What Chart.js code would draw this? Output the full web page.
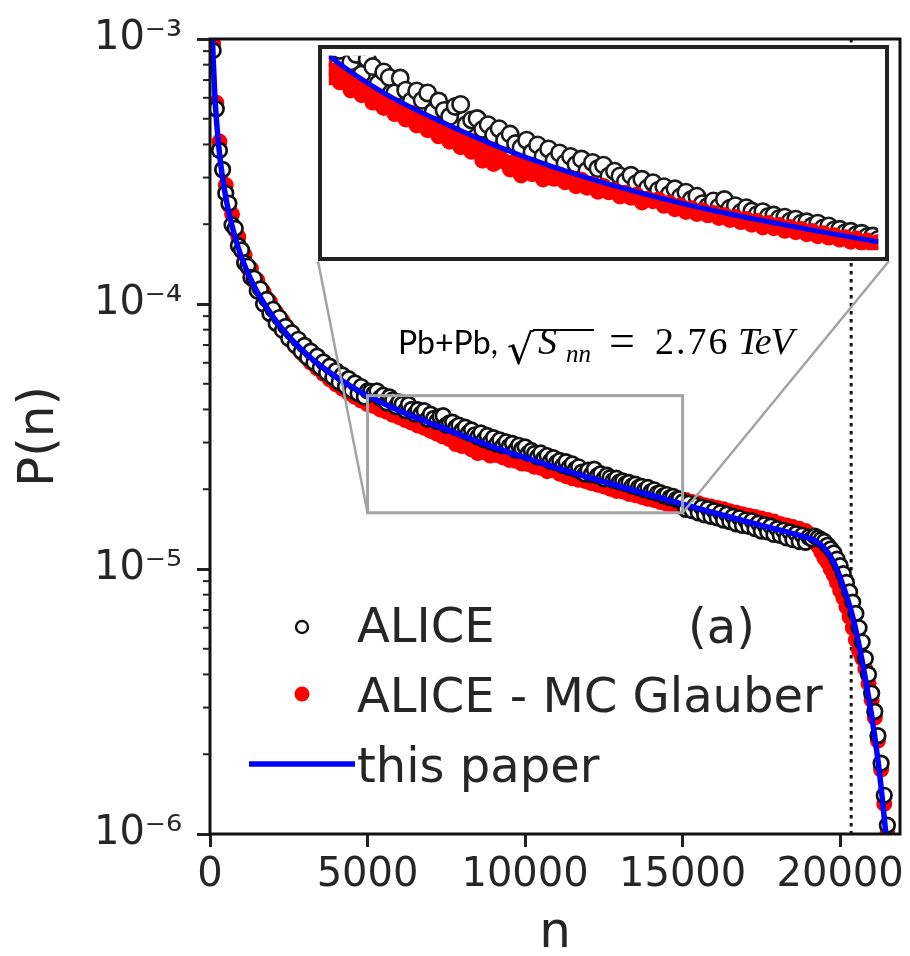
<!DOCTYPE html>
<html><head><meta charset="utf-8">
<script src="https://cdn.jsdelivr.net/npm/chart.js@4.4.1/dist/chart.umd.min.js"></script>
<style>
html,body{margin:0;padding:0;background:#fff;}
#wrap{position:relative;width:910px;height:956px;overflow:hidden;}
#main{position:absolute;left:0;top:0;}
#insetBox{position:absolute;left:318px;top:45px;width:571px;height:216px;}
#inset{display:block;}
</style></head><body>
<div id="wrap">
<canvas id="main" width="910" height="956"></canvas>
<div id="insetBox"><canvas id="inset" width="571" height="216"></canvas></div>
</div>
<script>
// ---------- data (P values in units of 1e-6) ----------
const UNIT = 1e-6;
const nBins = [
100,200,300,400,500,600,700,800,900,1000,
1100,1200,1300,1400,1500,1600,1700,1800,1900,2000,
2100,2200,2300,2400,2500,2600,2700,2800,2900,3000,
3100,3200,3300,3400,3500,3600,3700,3800,3900,4000,
4100,4200,4300,4400,4500,4600,4700,4800,4900,5000,
5100,5200,5300,5400,5500,5600,5700,5800,5900,6000,
6100,6200,6300,6400,6500,6600,6700,6800,6900,7000,
7100,7200,7300,7400,7500,7600,7700,7800,7900,8000,
8100,8200,8300,8400,8500,8600,8700,8800,8900,9000,
9100,9200,9300,9400,9500,9600,9700,9800,9900,10000,
10100,10200,10300,10400,10500,10600,10700,10800,10900,11000,
11100,11200,11300,11400,11500,11600,11700,11800,11900,12000,
12100,12200,12300,12400,12500,12600,12700,12800,12900,13000,
13100,13200,13300,13400,13500,13600,13700,13800,13900,14000,
14100,14200,14300,14400,14500,14600,14700,14800,14900,15000,
15100,15200,15300,15400,15500,15600,15700,15800,15900,16000,
16100,16200,16300,16400,16500,16600,16700,16800,16900,17000,
17100,17200,17300,17400,17500,17600,17700,17800,17900,18000,
18100,18200,18300,18400,18500,18600,18700,18800,18900,19000,
19100,19200,19300,19400,19500,19600,19700,19800,19900,20000,
20100,20200,20300,20400,20500,20600,20700,20800,20900,21000,
21100,21200,21300,21400,21500,21600];

const aliceP = [
905,545,380,322,262,240,199,193,166,160,
143,139,126,125,112,114,100,104,92.0,95.5,
84.5,88.9,79.6,82.3,74.1,77.9,70.0,73.6,66.1,69.8,
62.8,66.4,60.1,63.6,57.5,60.5,55.0,58.3,52.9,56.0,
50.6,54.0,48.9,52.3,47.2,50.4,45.9,48.8,44.6,47.0,
46.8,45.9,47.0,44.2,45.3,42.4,44.6,43.5,41.0,42.7,
41.9,39.6,41.8,40.0,38.4,39.9,38.5,39.6,36.8,38.4,
37.0,36.1,37.6,37.9,34.9,35.6,35.8,34.2,34.9,33.4,
34.3,32.6,33.5,32.1,31.5,32.6,30.8,31.9,30.2,31.3,
29.6,30.7,29.2,30.2,29.0,29.8,28.1,29.3,28.4,28.9,
27.3,28.0,27.3,26.5,27.4,26.2,26.8,25.5,26.3,25.2,
25.7,24.6,25.4,24.2,24.9,23.8,24.3,23.2,22.8,23.6,
22.7,23.8,22.5,22.9,21.9,22.6,22.1,21.6,22.0,21.3,
21.5,21.0,21.2,20.6,20.9,20.3,20.5,19.9,20.3,19.6,
19.9,19.3,19.4,18.9,19.1,18.6,18.8,18.3,18.4,17.9,
16.8,17.7,16.6,17.4,16.3,17.1,16.0,16.9,15.8,16.6,
15.6,16.3,15.3,16.1,15.1,15.8,14.8,15.6,14.6,15.3,
14.5,15.2,14.2,14.9,13.9,14.7,13.8,14.5,13.5,14.2,
13.4,14.0,13.1,13.8,12.9,13.6,12.7,13.4,12.6,13.2,
13.0,13.3,13.1,12.9,12.7,12.3,11.9,11.5,10.9,10.3,
9.6,8.9,8.2,7.5,6.8,6.0,5.3,4.6,4.0,3.4,
2.9,2.35,1.85,1.4,1.08,0.82];

const glauberP = [
960,575,410,318,281,236,218,190,179,158,
153,137,136,122,123,110,111,100,102,93.5,
93.0,84.0,86.5,77.8,80.0,72.4,74.3,68.0,69.9,63.9,
65.5,60.1,61.9,57.2,58.8,54.5,56.0,52.0,53.3,49.8,
50.8,47.9,49.2,46.1,47.3,44.6,45.9,43.2,44.4,41.9,
42.9,41.2,42.1,40.0,41.0,39.3,39.9,38.2,38.9,37.4,
38.0,36.5,37.1,35.7,36.6,34.8,35.4,34.1,35.0,33.2,
33.9,32.4,33.3,31.6,32.5,30.9,31.8,29.6,31.0,29.1,
30.3,29.4,28.3,29.5,27.4,28.8,27.6,28.3,26.8,27.9,
26.9,27.5,26.4,27.0,25.8,26.7,25.6,26.1,25.0,25.8,
24.9,25.2,24.3,24.8,24.1,24.5,23.4,23.9,23.6,23.8,
22.9,23.3,22.4,22.9,22.0,22.5,21.7,22.2,21.5,21.8,
21.1,21.5,20.8,21.2,20.5,20.9,20.1,20.6,19.7,20.3,
19.6,20.0,19.2,19.7,19.0,19.4,18.7,19.1,18.4,18.8,
18.2,18.5,17.9,18.2,17.6,18.0,17.4,17.7,17.2,17.5,
18.2,17.8,17.9,17.5,17.7,17.2,17.4,17.0,17.2,16.8,
17.0,16.6,16.8,16.4,16.5,16.1,16.3,15.9,16.1,15.8,
15.9,15.5,15.7,15.3,15.5,15.1,15.3,14.9,15.1,14.7,
14.8,14.5,14.6,14.2,14.4,14.0,14.2,13.8,13.9,13.6,
13.2,12.9,12.2,11.6,11.0,10.6,10.0,9.5,8.9,8.3,
7.8,7.2,6.6,6.0,5.4,4.9,4.6,4.2,3.7,3.2,
2.75,2.25,1.75,1.3,1.0,0.76];

const modelN = [60,80,100,150,200,300,400,500,600,800,1000,1300,1600,2000,2500,3000,3500,4000,4500,5000,
6000,7000,8000,9000,10000,11000,12000,13000,14000,15000,16000,17000,18000,18800,19200,19500,19800,
20100,20400,20700,21000,21200,21300,21400,21500,21600];
const modelP = [1300,1000,846,624,503,371,299,253,221,178,150,123.5,105.8,89.5,75.5,65.8,58.6,53.1,48.7,45.1,
39.6,35.5,31.9,28.85,26.3,24.1,22.18,20.51,18.98,17.56,16.3,15.14,14.1,13.3,12.8,12.0,10.6,
8.6,6.6,4.5,2.8,1.9,1.5,1.15,0.88,0.68];

const xTicks = [0,5000,10000,15000,20000];
const xTickLabels = ['0','5000','10000','15000','20000'];
const yTicks = [1e-6,1e-5,1e-4,1e-3];
const yTickLabels = ['10\u207B\u2076','10\u207B\u2075','10\u207B\u2074','10\u207B\u00B3'];
const seriesLabels = ['ALICE','ALICE - MC Glauber','this paper'];
const zoomX = [5000,15000];
const zoomY = [16.3e-6,45.1e-6];
const cutN = 20350;

// ---------- build points ----------
const toPts = (xs, ys) => xs.map((x,i)=>({x:x, y:ys[i]*UNIT}));
const alicePts = toPts(nBins, aliceP);
const glauberPts = toPts(nBins, glauberP);
const modelPts = toPts(modelN, modelP);

const TXT = '#262626';
const FONT = '"DejaVu Sans", sans-serif';
const SERIF = '"Liberation Serif", "DejaVu Serif", serif';

const mainDeco = {
  id:'mainDeco',
  beforeDatasetsDraw(chart){
    const {ctx, chartArea:a, scales:{x}} = chart;
    const px = x.getPixelForValue(cutN);
    ctx.save();
    ctx.strokeStyle='#111'; ctx.lineWidth=3; ctx.setLineDash([3.5,4.5]);
    ctx.beginPath(); ctx.moveTo(px,a.top); ctx.lineTo(px,a.bottom); ctx.stroke();
    ctx.restore();
  },
  afterDatasetsDraw(chart){
    const {ctx, chartArea:a, scales:{x,y}} = chart;
    ctx.save();
    const rx0=x.getPixelForValue(zoomX[0]), rx1=x.getPixelForValue(zoomX[1]);
    const ry0=y.getPixelForValue(zoomY[1]), ry1=y.getPixelForValue(zoomY[0]);
    ctx.strokeStyle='#a3a3a3'; ctx.lineWidth=3;
    ctx.strokeRect(rx0,ry0,rx1-rx0,ry1-ry0);
    const box=document.getElementById('insetBox');
    const ix0=box.offsetLeft, iy1=box.offsetTop+box.offsetHeight, ix1=box.offsetLeft+box.offsetWidth;
    ctx.lineWidth=2.5;
    ctx.beginPath(); ctx.moveTo(ix0,iy1); ctx.lineTo(rx0,ry1); ctx.stroke();
    ctx.beginPath(); ctx.moveTo(ix1,iy1); ctx.lineTo(rx1,ry1); ctx.stroke();
    ctx.strokeStyle='#111'; ctx.lineWidth=3;
    ctx.strokeRect(a.left,a.top,a.right-a.left,a.bottom-a.top);
    ctx.restore();
  },
  afterDraw(chart){
    const {ctx, chartArea:a, scales:{y}} = chart;
    const ds = chart.data.datasets;
    ctx.save();
    ctx.strokeStyle='#222'; ctx.lineWidth=2;
    for (let e=-6;e<=-4;e++){
      for (let k=2;k<=9;k++){
        const py=y.getPixelForValue(k*Math.pow(10,e));
        ctx.beginPath(); ctx.moveTo(a.left-7,py); ctx.lineTo(a.left,py); ctx.stroke();
      }
    }
    // legend
    const lx=302, tx=357;
    ctx.textBaseline='alphabetic';
    ctx.beginPath(); ctx.arc(lx,627,6,0,Math.PI*2);
    ctx.fillStyle='#fff'; ctx.fill(); ctx.strokeStyle=ds[0].pointBorderColor; ctx.lineWidth=2.4; ctx.stroke();
    ctx.beginPath(); ctx.arc(lx,694,7.5,0,Math.PI*2); ctx.fillStyle=ds[1].pointBackgroundColor; ctx.fill();
    ctx.strokeStyle=ds[2].borderColor; ctx.lineWidth=5.5;
    ctx.beginPath(); ctx.moveTo(249,764); ctx.lineTo(355,764); ctx.stroke();
    ctx.fillStyle=TXT; ctx.font='48px '+FONT;
    ctx.fillText(ds[0].label, tx, 642);
    ctx.fillText(ds[1].label, tx, 712);
    ctx.fillText(ds[2].label, tx, 782);
    ctx.fillText('(a)', 688, 643);
    // energy annotation
    ctx.fillStyle='#000';
    ctx.font='32px Lato, sans-serif';
    ctx.fillText('Pb+Pb,', 398, 354);
    ctx.font='42px "DejaVu Sans"';
    const rx=507, rb=364;
    ctx.fillText('\u221A', rx, rb);
    const m=ctx.measureText('\u221A');
    const top=rb-m.actualBoundingBoxAscent;
    ctx.strokeStyle='#000'; ctx.lineWidth=2;
    ctx.beginPath(); ctx.moveTo(rx+m.actualBoundingBoxRight-1, top+1); ctx.lineTo(594, top+1); ctx.stroke();
    ctx.font='italic 38px '+SERIF;
    ctx.fillText('S', 538, 354);
    ctx.font='italic 25px '+SERIF;
    ctx.fillText('nn', 566, 362);
    ctx.font='46px '+SERIF;
    ctx.fillText('=', 609, 356);
    ctx.font='38px '+SERIF;
    ctx.letterSpacing='2px';
    ctx.fillText('2.76', 655, 354);
    ctx.letterSpacing='-1px';
    ctx.font='italic 38px '+SERIF;
    ctx.fillText('TeV', 738, 354);
    ctx.letterSpacing='0px';
    ctx.restore();
  }
};

new Chart(document.getElementById('main'), {
  type:'scatter',
  data:{datasets:[
    {label:seriesLabels[0], data:alicePts, pointStyle:'circle', pointRadius:7.3, pointBorderWidth:2.7,
     borderColor:'#111', backgroundColor:'#fff', pointBackgroundColor:'#fff', pointBorderColor:'#111', order:2},
    {label:seriesLabels[1], data:glauberPts, pointStyle:'circle', pointRadius:8, pointBorderWidth:0,
     borderColor:'#ff0000', backgroundColor:'#ff0000', pointBackgroundColor:'#ff0000', order:3},
    {label:seriesLabels[2], type:'line', data:modelPts, showLine:true, borderColor:'#0000ff', borderWidth:5.5,
     pointRadius:0, fill:false, cubicInterpolationMode:'monotone', order:1}
  ]},
  options:{
    responsive:false, animation:false, events:[],
    layout:{padding:{top:28,right:7,left:0,bottom:0}},
    plugins:{legend:{display:false}, tooltip:{enabled:false}},
    scales:{
      x:{type:'linear', min:0, max:21900,
        afterBuildTicks:s=>{ s.ticks = xTicks.map(v=>({value:v})); },
        afterFit:s=>{ s.height = 122; },
        ticks:{font:{family:FONT,size:40}, color:TXT, padding:5, maxRotation:0, autoSkip:false,
          callback:(v)=>xTickLabels[xTicks.indexOf(v)]},
        grid:{display:true, drawOnChartArea:false, drawTicks:true, tickLength:13, tickWidth:3, tickColor:'#222'},
        border:{display:false},
        title:{display:true, text:'n', color:TXT, font:{family:FONT,size:50,lineHeight:0.8}, padding:{top:0,bottom:2}}
      },
      y:{type:'logarithmic', min:1e-6, max:1e-3,
        afterBuildTicks:s=>{ s.ticks = yTicks.map(v=>({value:v})); },
        afterFit:s=>{ s.width = 210; },
        ticks:{font:{family:FONT,size:40}, color:TXT, padding:15, autoSkip:false,
          callback:(v)=>yTickLabels[yTicks.indexOf(v)]},
        grid:{display:true, drawOnChartArea:false, drawTicks:true, tickLength:13, tickWidth:3, tickColor:'#222'},
        border:{display:false},
        title:{display:true, text:'P(n)', color:TXT, font:{family:FONT,size:50,lineHeight:1.2}, padding:{top:10,bottom:0}}
      }
    }
  },
  plugins:[mainDeco]
});

const insetDeco = {
  id:'insetDeco',
  beforeDraw(chart){
    const {ctx,width,height}=chart;
    ctx.save(); ctx.fillStyle='#fff'; ctx.fillRect(0,0,width,height); ctx.restore();
  },
  afterDraw(chart){
    const {ctx,width,height}=chart;
    ctx.save(); ctx.strokeStyle='#222'; ctx.lineWidth=4;
    ctx.strokeRect(2,2,width-4,height-4); ctx.restore();
  }
};

new Chart(document.getElementById('inset'), {
  type:'scatter',
  data:{datasets:[
    {label:seriesLabels[0], data:alicePts, pointRadius:8.2, pointBorderWidth:2.6,
     pointBackgroundColor:'#fff', pointBorderColor:'#1a1a1a', order:3, clip:0},
    {label:seriesLabels[1], data:glauberPts, pointRadius:8.2, pointBorderWidth:0,
     pointBackgroundColor:'#ff0000', order:2, clip:0},
    {label:seriesLabels[2], type:'line', data:modelPts, showLine:true, borderColor:'#0000ff', borderWidth:5,
     pointRadius:0, fill:false, cubicInterpolationMode:'monotone', order:1, clip:0}
  ]},
  options:{
    responsive:false, animation:false, events:[],
    layout:{padding:0},
    plugins:{legend:{display:false}, tooltip:{enabled:false}},
    scales:{
      x:{type:'linear', min:zoomX[0], max:zoomX[1], display:false},
      y:{type:'linear', min:zoomY[0], max:zoomY[1], display:false}
    }
  },
  plugins:[insetDeco]
});
</script>
</body></html>
